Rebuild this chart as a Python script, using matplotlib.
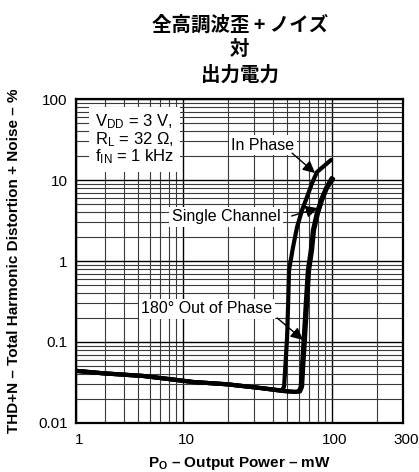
import numpy as np
import matplotlib
matplotlib.use("Agg")
import matplotlib.pyplot as plt
from matplotlib.transforms import ScaledTranslation

plt.rcParams['font.family'] = ['Liberation Sans', 'Noto Sans CJK JP', 'DejaVu Sans']
plt.rcParams['mathtext.fontset'] = 'custom'
plt.rcParams['mathtext.rm'] = 'Liberation Sans'
plt.rcParams['mathtext.bf'] = 'Liberation Sans:bold'
plt.rcParams['mathtext.default'] = 'regular'

# left edge of the power axis (printed as "1" on the sheet)
p_left = 1.9

# output power (mW) and THD+N (%)
in_phase_p = [1.9, 2.9, 5.4, 11.7, 19.7, 32.9, 46.0, 47.6, 48.4, 49.9, 50.7, 51.4,
              54.7, 58.2, 62.9, 67.9, 73.4, 79.3, 98.4]
in_phase_thd = [0.044, 0.041, 0.038, 0.032, 0.030, 0.027, 0.0252, 0.028, 0.045, 0.115,
                0.30, 0.77, 1.49, 2.63, 4.26, 6.17, 9.18, 12.6, 17.7]

single_p = [1.9, 2.9, 5.4, 11.7, 19.7, 32.9, 46.9, 57.0, 61.0, 62.9, 63.8, 65.9,
            67.9, 70.1, 73.4, 75.7, 80.5, 85.7, 92.5, 101.6]
single_thd = [0.044, 0.041, 0.038, 0.032, 0.030, 0.027, 0.0248, 0.0241, 0.0245, 0.028,
              0.045, 0.115, 0.30, 0.77, 1.37, 2.41, 3.91, 5.66, 7.96, 10.3]

out_phase_p = [1.9, 2.9, 5.4, 11.7, 19.7, 32.9, 46.9, 56.0, 60.0, 61.6, 62.6, 64.6,
               66.6, 68.8, 72.0, 74.4, 79.0, 84.2, 91.0, 99.5]
out_phase_thd = [0.044, 0.041, 0.038, 0.032, 0.030, 0.027, 0.0248, 0.0242, 0.0246, 0.028,
                 0.045, 0.115, 0.30, 0.77, 1.37, 2.41, 3.91, 5.66, 7.96, 10.6]

x_ticks = [p_left, 10, 100, 300]
x_tick_labels = ['1', '10', '100', '300']
x_minor = [3, 4, 5, 6, 7, 8, 9, 20, 30, 40, 50, 60, 70, 80, 90, 200]
y_ticks = [0.01, 0.1, 1, 10, 100]
y_tick_labels = ['0.01', '0.1', '1', '10', '100']

fig = plt.figure(figsize=(4.19, 4.72), dpi=100)
ax = fig.add_axes([0.181, 0.104, 0.781, 0.686])

ax.set_xscale('log')
ax.set_yscale('log')
ax.set_xlim(p_left, 300)
ax.set_ylim(0.01, 100)

ax.set_xticks(x_ticks)
ax.set_xticklabels(x_tick_labels)
ax.set_xticks(x_minor, minor=True)
ax.set_xticklabels([], minor=True)
ax.set_yticks(y_ticks)
ax.set_yticklabels(y_tick_labels)
ax.set_yticks([m * d for d in [0.01, 0.1, 1, 10] for m in range(2, 10)], minor=True)
ax.set_yticklabels([], minor=True)
ax.tick_params(which='both', length=0, labelsize=11)
ax.tick_params(axis='x', pad=7)
ax.tick_params(axis='y', pad=6)

# labels on the power axis sit a little right of their grid lines
shift = ScaledTranslation(0.03, 0, fig.dpi_scale_trans)
for lbl in ax.get_xticklabels():
    lbl.set_transform(lbl.get_transform() + shift)

ax.grid(which='major', color='black', lw=1.0)
ax.grid(which='minor', color='#3a3a3a', lw=0.8)
ax.set_axisbelow(True)
for s in ax.spines.values():
    s.set_linewidth(1.6)

kw = dict(color='black', lw=3, solid_joinstyle='round', solid_capstyle='round', zorder=3)
ax.plot(out_phase_p, out_phase_thd, **kw)
ax.plot(single_p, single_thd, **kw)
ax.plot(in_phase_p, in_phase_thd, **kw)

box = dict(facecolor='white', edgecolor='none', pad=2)
ax.text(0.058, 0.958, 'V$_{DD}$ = 3 V,\nR$_{L}$ = 32 Ω,\nf$_{IN}$ = 1 kHz',
        transform=ax.transAxes, ha='left', va='top', fontsize=12, linespacing=0.9,
        bbox=dict(facecolor='white', edgecolor='none', pad=4), zorder=4)
ax.text(0.572, 0.858, 'In Phase', transform=ax.transAxes, ha='center', va='center',
        fontsize=11.5, bbox=box, zorder=4)
ax.text(0.46, 0.636, 'Single Channel', transform=ax.transAxes, ha='center', va='center',
        fontsize=11.5, bbox=box, zorder=4)
ax.text(0.401, 0.352, '180° Out of Phase', transform=ax.transAxes, ha='center', va='center',
        fontsize=11.5, bbox=box, zorder=4)

arrow = dict(arrowstyle='-|>', color='black', lw=1, mutation_scale=18, shrinkA=0, shrinkB=0)
ax.annotate('', xy=(76.9, 12.2), xytext=(53.9, 21.5), arrowprops=arrow, zorder=5)
ax.annotate('', xy=(80.5, 4.5), xytext=(53.5, 3.6), arrowprops=arrow, zorder=5)
ax.annotate('', xy=(63.8, 0.106), xytext=(42.8, 0.198), arrowprops=arrow, zorder=5)

ax.set_xlabel(r'$\mathbf{P_{O}}$ – Output Power – mW', fontsize=11, fontweight='bold')
ax.xaxis.set_label_coords(0.5, -0.098)
ax.set_ylabel('THD+N – Total Harmonic Distortion + Noise – %', fontsize=11,
              fontweight='bold')
ax.yaxis.set_label_coords(-0.168, 0.5)

fig.text(0.572, 0.968, '全高調波歪 + ノイズ\n対\n出力電力', ha='center', va='top',
         fontsize=14, fontweight='bold', linespacing=1.38,
         family=['Noto Sans CJK JP', 'DejaVu Sans'])

fig.savefig('out.png', dpi=100)
